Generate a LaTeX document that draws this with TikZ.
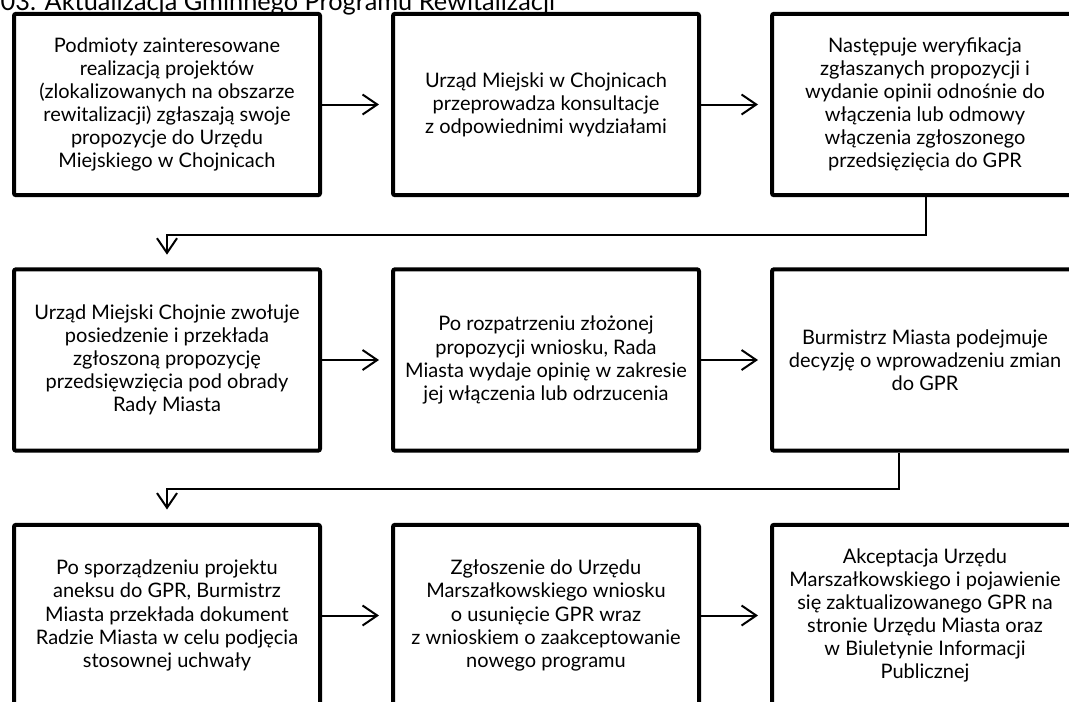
\documentclass[tikz,border=0pt]{standalone}
\usepackage{fontspec}
\setmainfont{Lato}
\usetikzlibrary{arrows.meta,calc}
\tikzset{
  stepbox/.style={draw, line width=3pt, rounded corners=1.5pt, minimum width=229.5pt, minimum height=136pt, align=center, inner sep=0pt, font=\fontsize{15}{17.3}\selectfont},
  arr/.style={line width=1.5pt, -{Straight Barb[length=11pt,width=15pt,line width=1.5pt]}},
  titlefont/.style={font=\fontsize{19}{22}\selectfont}
}
\begin{document}
\begin{tikzpicture}[x=0.75pt,y=-0.75pt]
\useasboundingbox (0,0) rectangle (1069,701);
\clip (0,0) rectangle (1069,701);
\node[anchor=base west, titlefont] (title) at (-4,10) {03. Aktualizacja Gminnego Programu Rewitalizacji};

\node[stepbox] (b1) at (167,104.5) {Podmioty zainteresowane\\realizacją projektów\\(zlokalizowanych na obszarze\\rewitalizacji) zgłaszają swoje\\propozycje do Urzędu\\Miejskiego w Chojnicach};
\node[stepbox] (b2) at (546,104.5) {Urząd Miejski w Chojnicach\\przeprowadza konsultacje\\z odpowiednimi wydziałami};
\node[stepbox] (b3) at (925,104.5) {Następuje weryfikacja\\zgłaszanych propozycji i\\wydanie opinii odnośnie do\\włączenia lub odmowy\\włączenia zgłoszonego\\przedsięzięcia do GPR};

\node[stepbox] (b4) at (167,360) {Urząd Miejski Chojnie zwołuje\\posiedzenie i przekłada\\zgłoszoną propozycję\\przedsięwzięcia pod obrady\\Rady Miasta};
\node[stepbox] (b5) at (546,360) {Po rozpatrzeniu złożonej\\propozycji wniosku, Rada\\Miasta wydaje opinię w zakresie\\jej włączenia lub odrzucenia};
\node[stepbox] (b6) at (925,360) {Burmistrz Miasta podejmuje\\decyzję o wprowadzeniu zmian\\do GPR};

\node[stepbox] (b7) at (167,615.5) {Po sporządzeniu projektu\\aneksu do GPR, Burmistrz\\Miasta przekłada dokument\\Radzie Miasta w celu podjęcia\\stosownej uchwały};
\node[stepbox] (b8) at (546,615.5) {Zgłoszenie do Urzędu\\Marszałkowskiego wniosku\\o usunięcie GPR wraz\\z wnioskiem o zaakceptowanie\\nowego programu};
\node[stepbox] (b9) at (925,615.5) {Akceptacja Urzędu\\Marszałkowskiego i pojawienie\\się zaktualizowanego GPR na\\stronie Urzędu Miasta oraz\\w Biuletynie Informacji\\Publicznej};

\draw[arr, shorten >=9pt] (b1) -- (b2);
\draw[arr, shorten >=9pt] (b2) -- (b3);
\draw[arr, shorten >=9pt] (b4) -- (b5);
\draw[arr, shorten >=9pt] (b5) -- (b6);
\draw[arr, shorten >=9pt] (b7) -- (b8);
\draw[arr, shorten >=9pt] (b8) -- (b9);

\draw[arr, shorten >=9.5pt] ($(b3.south)+(1,0)$) -- ++(0,38) -| (b4.north);
\draw[arr, shorten >=10pt] ($(b6.south)+(-26,0)$) -- ++(0,36) -| (b7.north);
\end{tikzpicture}
\end{document}
